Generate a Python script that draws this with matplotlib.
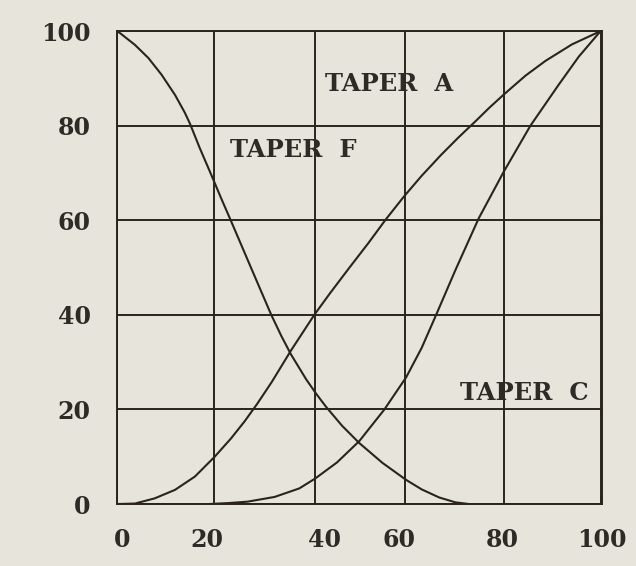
import matplotlib
matplotlib.use("Agg")
from matplotlib import pyplot as plt

# values (percent)
taper_a_x = [0, 3.7, 7.8, 12, 16.1, 20.2, 23.6, 26.4, 29, 32, 36, 40.8, 44, 48, 52, 55.6,
             59.4, 63, 67, 70.5, 74.2, 77, 80, 84.5, 88.6, 94.1, 100]
taper_a_y = [0, 0.1, 1.2, 3, 5.8, 10, 13.9, 17.5, 21.2, 25.8, 32.5, 40, 44.5, 49.9, 55.2, 60.2,
             65.1, 69.4, 73.8, 77.4, 81, 83.8, 86.6, 90.6, 93.7, 97.2, 100]

taper_c_x = [19, 23, 27, 32.6, 37.7, 41, 45.5, 50.1, 55.3, 59.8, 63, 66, 70, 74.8, 80, 85.5, 91.3, 95.5, 100]
taper_c_y = [0, 0.2, 0.5, 1.5, 3.3, 5.4, 8.8, 13.3, 20, 26.8, 33, 40, 49.5, 60.4, 70.3, 80, 88.6, 94.6, 100]

taper_f_x = [0, 0.6, 3.7, 6.5, 9.2, 12, 14, 15.1, 17.1, 19.5, 21.6, 23.6, 27.7, 31.9, 34, 36,
             39.1, 41.2, 43.2, 46.5, 50.1, 54.9, 59.8, 63, 66.6, 70, 72.8]
taper_f_y = [100, 99.6, 97.1, 94.3, 90.8, 86.5, 82.8, 80.4, 75.3, 69.6, 64.5, 59.8, 50, 40, 35.5, 31.6,
             26.4, 23.3, 20.6, 16.6, 12.9, 8.7, 5.1, 3.1, 1.4, 0.35, 0]

tick_labels = ["0", "20", "40", "60", "80", "100"]
grid_vals = [0, 20, 40, 60, 80, 100]

ink = "#2b241c"
paper = "#e7e5db"

fig = plt.figure(figsize=(6.36, 5.66), dpi=100, facecolor=paper)
ax = fig.add_axes([0.184, 0.1095, 0.7625, 0.8355], facecolor=paper)

# hand ruled grid: the 40 and 60 verticals are drawn a little off
vgrid = [0, 20, 41, 59.6, 80, 100]
for v in vgrid:
    ax.axvline(v, color=ink, lw=1.4, zorder=1)
for v in grid_vals:
    ax.axhline(v, color=ink, lw=1.4, zorder=1)

for xs, ys in [(taper_a_x, taper_a_y), (taper_c_x, taper_c_y), (taper_f_x, taper_f_y)]:
    ax.plot(xs, ys, color=ink, lw=1.5, zorder=2, solid_joinstyle="round")

txt = dict(family="DejaVu Serif", fontweight="bold", fontsize=17.5, color="#2e2a26",
           ha="center", va="center", zorder=3)
ax.text(56.3, 88.8, "TAPER  A", **txt)
ax.text(36.5, 74.8, "TAPER  F", **txt)
ax.text(84.3, 23.5, "TAPER  C", **txt)

ax.set_xlim(0, 100)
ax.set_ylim(0, 100)
# the hand lettered x labels sit slightly off the grid lines
ax.set_xticks([1, 18.5, 43, 58.3, 79.7, 100.3])
ax.set_xticklabels(tick_labels)
ax.set_yticks(grid_vals)
ax.set_yticklabels(tick_labels)
for lab in ax.get_xticklabels() + ax.get_yticklabels():
    lab.set_family("DejaVu Serif")
    lab.set_fontweight("bold")
    lab.set_fontsize(17)
    lab.set_color("#2e2a26")
ax.tick_params(axis="x", length=0, pad=17)
ax.tick_params(axis="y", length=0, pad=19)
for s in ax.spines.values():
    s.set_color(ink)
    s.set_linewidth(1.4)

fig.savefig("out.png", dpi=100, facecolor=paper)
